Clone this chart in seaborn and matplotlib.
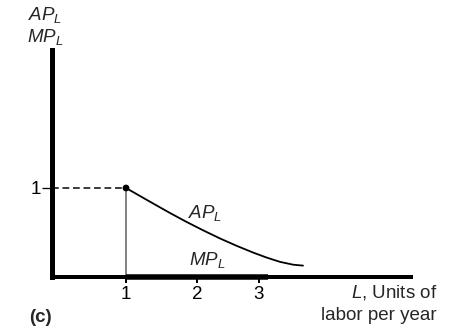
import matplotlib
matplotlib.use("Agg")
import matplotlib.pyplot as plt
import seaborn as sns
import pandas as pd

# ---- data ----
ap_x = [1.0, 1.188, 1.366, 1.591, 1.815, 2.034, 2.262, 2.486, 2.705, 2.889, 3.067, 3.246, 3.376]
ap_y = [1.0, 0.910, 0.825, 0.719, 0.618, 0.525, 0.433, 0.350, 0.275, 0.218, 0.170, 0.138, 0.128]
mp_x = [1.0, 2.906]
mp_y = [0.0, 0.0]
point_x = [1.0]
point_y = [1.0]
xtick_pos = [1.0, 1.953, 2.785]
xtick_labels = ["1", "2", "3"]
ytick_pos = [1.0]
ytick_labels = ["1"]

sns.set_style("white")
plt.rcParams["font.family"] = ["Liberation Sans", "DejaVu Sans"]
plt.rcParams["mathtext.fontset"] = "custom"
plt.rcParams["mathtext.rm"] = "Liberation Sans"
plt.rcParams["mathtext.it"] = "Liberation Sans:italic"

W, H = 475, 336
fig = plt.figure(figsize=(W / 100, H / 100), dpi=100)
x0, y0 = 51.5, 277.0
sx, sy = 74.5, 89.0
xr, yt = 413.0, 50.0
ax = fig.add_axes([x0 / W, 1 - y0 / H, (xr - x0) / W, (y0 - yt) / H])
ax.set_xlim(0, (xr - x0) / sx)
ax.set_ylim(0, (y0 - yt) / sy)

px = 72 / 100.0  # points per pixel
FS = 13.5

for s in ["top", "right"]:
    ax.spines[s].set_visible(False)
ax.spines["left"].set_linewidth(5 * px)
ax.spines["bottom"].set_linewidth(4 * px)
ax.spines["left"].set_capstyle("projecting")
ax.spines["bottom"].set_capstyle("butt")
for s in ["left", "bottom"]:
    ax.spines[s].set_color("black")

ap_df = pd.DataFrame({"L": ap_x, "AP": ap_y})
sns.lineplot(data=ap_df, x="L", y="AP", ax=ax, color="black", lw=1.3, sort=False,
             solid_joinstyle="round")

# dashed guide and vertical line
ax.plot([0, point_x[0]], [point_y[0], point_y[0]], ls=(0, (4.5, 2.5)), color="black", lw=1.5 * px)
ax.plot([point_x[0], point_x[0]], [0, point_y[0]], color="#777777", lw=1.8 * px)
# MP along axis
ax.plot(mp_x, mp_y, color="black", lw=5.5 * px, solid_capstyle="butt", clip_on=False, zorder=5)
sns.scatterplot(x=point_x, y=point_y, ax=ax, color="black", s=24, edgecolor="none", zorder=6, clip_on=False)

ax.set_xticks(xtick_pos)
ax.set_xticklabels(xtick_labels)
ax.set_yticks(ytick_pos)
ax.set_yticklabels(ytick_labels)
ax.tick_params(axis="x", bottom=True, direction="out", length=6 * px, width=2 * px, pad=2,
               labelsize=FS, colors="black")
ax.tick_params(axis="y", left=True, direction="out", length=10 * px, width=1.3 * px, pad=0,
               labelsize=FS, colors="black")
ax.set_xlabel("")
ax.set_ylabel("")

def d(pxx, pyy):
    return ((pxx - x0) / sx, (y0 - pyy) / sy)

ax.text(*d(205, 213), r"$AP_L$", fontsize=FS, ha="center", va="center")
ax.text(*d(207, 260), r"$MP_L$", fontsize=FS, ha="center", va="center")

def f(pxx, pyy):
    return (pxx / W, 1 - pyy / H)

fig.text(*f(45, 15), r"$AP_L$", fontsize=FS, ha="center", va="center")
fig.text(*f(45, 37), r"$MP_L$", fontsize=FS, ha="center", va="center")
fig.text(*f(29, 318), "(c)", fontsize=FS, fontweight="bold", ha="left", va="center")
fig.text(*f(437, 292), r"$L$, Units of", fontsize=FS, ha="right", va="center")
fig.text(*f(437, 315), "labor per year", fontsize=FS, ha="right", va="center")

fig.savefig("out.png", dpi=100)
